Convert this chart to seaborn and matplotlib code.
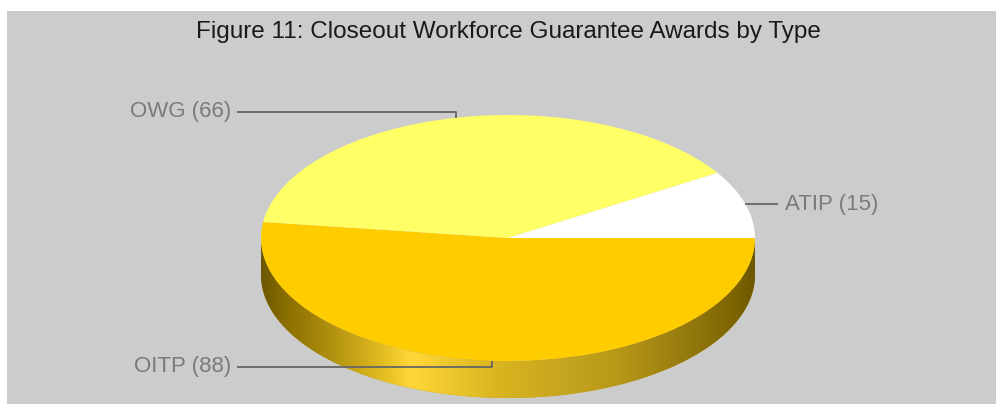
import numpy as np
import matplotlib
matplotlib.use("Agg")
import matplotlib.pyplot as plt
from matplotlib.patches import Rectangle, PathPatch
from matplotlib.path import Path
import matplotlib.colors as mcolors
import seaborn as sns

# ---- data ---------------------------------------------------------------
award_types = ["OITP", "OWG", "ATIP"]
award_counts = [88, 66, 15]
slice_colors = ["#ffcc00", "#ffff66", "#ffffff"]
title_text = "Figure 11: Closeout Workforce Guarantee Awards by Type"

# ---- style --------------------------------------------------------------
sns.set_theme(style="white")
plt.rcParams["font.family"] = ["Liberation Sans", "DejaVu Sans"]

W, H = 997, 404
fig = plt.figure(figsize=(W / 100, H / 100), dpi=100)
fig.patch.set_facecolor("white")
fig.add_artist(Rectangle((7 / W, 0), 989 / W, 393 / H, transform=fig.transFigure,
                         facecolor="#cccccc", edgecolor="none", zorder=0))

# pie geometry in pixels (centre, radii, wall height)
CX, CY, RX, RY, DEPTH = 508, 238, 247, 123, 37


def dx(px):
    return (px - CX) / RX


def dy(py):
    return (CY - py) / RY


ax = fig.add_axes([0, 0, 1, 1])
ax.patch.set_alpha(0)

palette = sns.color_palette(slice_colors)
wedges, _ = ax.pie(award_counts, colors=palette, startangle=0, counterclock=False,
                   radius=1, center=(0, 0), frame=True,
                   wedgeprops=dict(linewidth=0))
for w in wedges:
    w.set_zorder(3)

# ---- side wall with horizontal lighting -----------------------------------
d = DEPTH / RY
stop_x = np.array([-1.0, -0.9, -0.72, -0.52, -0.39, -0.28, -0.03, 0.21, 0.45, 0.69, 0.94, 1.0])
shade = np.array([0.42, 0.54, 0.69, 0.88, 1.0, 0.95, 0.85, 0.78, 0.72, 0.60, 0.48, 0.42])
glow = np.array([0.0, 0.0, 0.06, 0.125, 0.22, 0.19, 0.125, 0.125, 0.09, 0.06, 0.0, 0.0])
gx = np.linspace(-1, 1, 600)
s = np.interp(gx, stop_x, shade)[:, None]
g = np.interp(gx, stop_x, glow)[:, None]

for w in wedges:
    base = np.array(mcolors.to_rgb(w.get_facecolor()))
    for lo, hi in [(-540, -360), (-180, 0), (180, 360)]:
        a, b = max(w.theta1, lo), min(w.theta2, hi)
        if b <= a:
            continue
        t = np.radians(np.linspace(a, b, 200))
        top = np.column_stack([np.cos(t), np.sin(t)])
        bot = np.column_stack([np.cos(t[::-1]), np.sin(t[::-1]) - d])
        verts = np.vstack([top, bot, top[:1]])
        clip = PathPatch(Path(verts, closed=True), transform=ax.transData,
                         facecolor=base * 0.75, edgecolor="none", zorder=1)
        ax.add_patch(clip)
        rgb = np.clip(base[None, :] * s + (1 - base[None, :]) * g, 0, 1)
        im = ax.imshow(rgb[None, :, :], extent=(-1, 1, -1 - d, 0), aspect="auto",
                       interpolation="bilinear", zorder=2)
        im.set_clip_path(clip)

# ---- labels with leader lines ---------------------------------------------
line_kw = dict(color="#666666", lw=1.3, solid_capstyle="butt", zorder=4)
text_kw = dict(color="#7a7a7a", fontsize=16, va="center", zorder=5)
for w, name, n in zip(wedges, award_types, award_counts):
    mid = np.radians((w.theta1 + w.theta2) / 2)
    ax_, ay_ = np.cos(mid), np.sin(mid)
    label = f"{name} ({n})"
    if abs(ax_) > 0.8:
        sgn = np.sign(ax_)
        x_end = ax_ + sgn * 33 / RX
        ax.plot([ax_, x_end], [ay_, ay_], **line_kw)
        ax.text(x_end + sgn * 7 / RX, ay_, label,
                ha="left" if sgn > 0 else "right", **text_kw)
    else:
        ly = ay_ + np.sign(ay_) * 6 / RY
        x_end = dx(237)
        ax.plot([ax_, ax_, x_end], [ay_, ly, ly], **line_kw)
        ax.text(dx(231), ly, label, ha="right", **text_kw)

ax.text(dx(508), dy(32), title_text, ha="center", va="center",
        fontsize=17.5, color="#1a1a1a", zorder=5)

ax.set_aspect("auto")
ax.set_xlim(dx(0), dx(W))
ax.set_ylim(dy(H), dy(0))
ax.axis("off")

fig.savefig("out.png", dpi=100)
